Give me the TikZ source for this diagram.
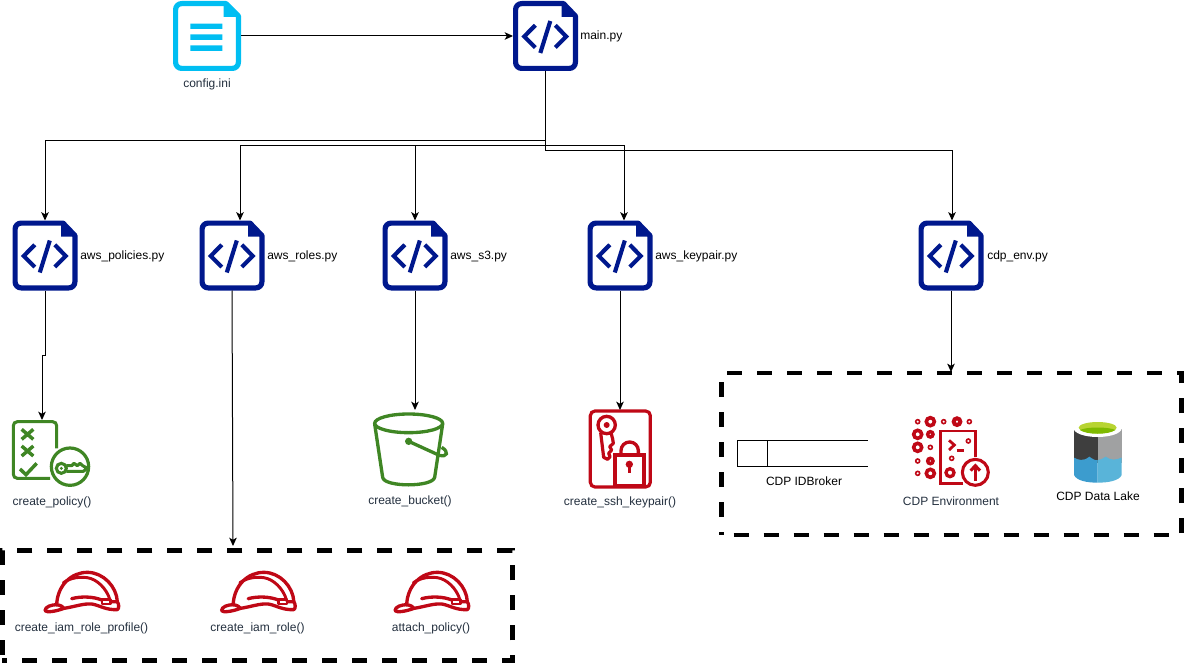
\documentclass[tikz,border=0pt]{standalone}
\usepackage{fontspec}
\setmainfont{Liberation Sans}
\usetikzlibrary{arrows.meta}
\definecolor{navy}{HTML}{00188D}
\definecolor{cyanfile}{HTML}{00BEF2}
\definecolor{awsgreen}{HTML}{3F8624}
\definecolor{awsred}{HTML}{BF0816}
\definecolor{inkdark}{HTML}{232F3E}
\definecolor{lakedark}{HTML}{3E3E3E}
\definecolor{lakegrey}{HTML}{A0A1A2}
\definecolor{lakelime}{HTML}{B8D432}
\definecolor{lakegreen}{HTML}{7FBA00}
\definecolor{lakeblue}{HTML}{3C9CCE}
\definecolor{lakesky}{HTML}{59B4D9}
\tikzset{
  x=.75pt,y=-.75pt,
  conn/.style={draw=black,line width=.75pt,-{Stealth[length=6.2pt,width=5.6pt,inset=1.5pt]}},
  wire/.style={draw=black,line width=.75pt},
  iconbox/.style={inner sep=0pt,outer sep=0pt,draw=none,rectangle},
  lbl/.style={font=\fontsize{9}{11}\selectfont,inner sep=0pt,text=black,anchor=base},
  lbll/.style={lbl,anchor=base west},
  lbld/.style={lbl,text=inkdark},
  groupbox/.style={draw=black,line width=3.5pt,dash pattern=on 11.25pt off 11.25pt,rectangle,inner sep=0pt,outer sep=0pt},
  zoomed/.style={x=.25pt,y=-.25pt},
  codefile/.pic={
    \draw[navy,line width=3.9pt,line join=round,rounded corners=4.5pt]
      (2.6,30) -- (2.6,2.6) -- (35,2.6) [sharp corners] -- (50.5,2.6) -- (62.4,15) [rounded corners=4.5pt] -- (62.4,67.4) -- (2.6,67.4) -- cycle;
    \fill[navy] (48.7,1) -- (50.5,1) -- (64,15) -- (64,16) -- (48.7,16) -- cycle;
    \draw[navy,line width=3.1pt,line cap=butt,line join=miter]
      (22.3,24.3) -- (11.2,35.5) -- (22.3,46.5)
      (42.3,24.3) -- (53.2,35.5) -- (42.3,46.5)
      (37.3,20) -- (27.3,52);
  },
  inifile/.pic={
    \draw[cyanfile,line width=3.9pt,line join=round,rounded corners=4.5pt]
      (2.6,30) -- (2.6,2.6) -- (35,2.6) [sharp corners] -- (53,2.6) -- (65.4,15) [rounded corners=4.5pt] -- (65.4,67.4) -- (2.6,67.4) -- cycle;
    \fill[cyanfile] (50.7,1) -- (53,1) -- (67,15) -- (67,16) -- (50.7,16) -- cycle;
    \fill[cyanfile] (17.3,22.7) rectangle (49.3,27.9)
      (17.3,33.4) rectangle (49.3,38.8)
      (17.3,44.4) rectangle (49.3,50);
  },
  hardhat/.pic={
    \begin{scope}[zoomed,awsred,line width=2.5pt,line join=round,line cap=round]
      \draw (170,195) .. controls (172,135) and (215,97) .. (262,97)
            .. controls (310,97) and (350,140) .. (352,185);
      \draw[line width=2.2pt] (190,128) .. controls (215,112) and (240,110) .. (262,113)
            .. controls (290,117) and (320,145) .. (330,180);
      \draw (215,176) .. controls (245,168) and (280,170) .. (306,180);
      \draw[line width=1.9pt] (306,178) rectangle (332,192);
      \draw (135,212) .. controls (135,200) and (155,194) .. (170,194)
            .. controls (182,196) and (190,200) .. (192,205)
            .. controls (165,215) and (140,218) .. (135,212);
      \draw (192,205) .. controls (225,200) and (250,190) .. (275,192)
            .. controls (300,196) and (315,210) .. (352,209)
            .. controls (358,205) and (357,192) .. (352,185) -- (332,185);
    \end{scope}
  },
}
\begin{document}
\begin{tikzpicture}
\useasboundingbox (0,0) rectangle (1184,663);

% ---- file nodes
\node[iconbox,minimum width=51pt,minimum height=52.5pt] (config) at (207,36) {};
\node[iconbox,minimum width=48.75pt,minimum height=52.5pt] (main) at (545.5,36) {};
\node[iconbox,minimum width=48.75pt,minimum height=52.5pt] (policies) at (45,255.5) {};
\node[iconbox,minimum width=48.75pt,minimum height=52.5pt] (roles) at (232,255.5) {};
\node[iconbox,minimum width=48.75pt,minimum height=52.5pt] (sthree) at (415,255.5) {};
\node[iconbox,minimum width=48.75pt,minimum height=52.5pt] (keypair) at (620,255.5) {};
\node[iconbox,minimum width=48.75pt,minimum height=52.5pt] (cdpenv) at (951,255.5) {};

\pic at (173,1) {inifile};
\pic at (513,1) {codefile};
\pic at (12.5,220.5) {codefile};
\pic at (199.5,220.5) {codefile};
\pic at (382.5,220.5) {codefile};
\pic at (587.5,220.5) {codefile};
\pic at (918.5,220.5) {codefile};

% ---- file labels
\node[lbld] (lconfig) at (207,88) {config.ini};
\node[lbll] (lmain) at (580,40) {main.py};
\node[lbll] (lpol) at (80,259) {aws\_policies.py};
\node[lbll] (lrol) at (267,259) {aws\_roles.py};
\node[lbll] (ls3) at (450,259) {aws\_s3.py};
\node[lbll] (lkey) at (655,259) {aws\_keypair.py};
\node[lbll] (lenv) at (987,259) {cdp\_env.py};

% ---- group boxes
\node[groupbox,dash phase=7.5pt,minimum width=510*.75pt,minimum height=110*.75pt] (iamgroup) at (257.45,605.4) {};
\node[groupbox,dash phase=13.5pt,minimum width=460.2*.75pt,minimum height=162*.75pt] (cdpgroup) at (951.6,453.85) {};

% ---- policy icon
\node[iconbox,minimum width=58pt,minimum height=45pt] (policyicon) at (51.5,450) {};
\begin{scope}[shift={(0,400)},zoomed,awsgreen]
  \draw[line width=2.3pt,rounded corners=3pt] (150,235) -- (40,235) -- (40,65) -- (170,65) -- (170,145);
  \draw[line width=2.6pt] (65,88) -- (100,118) (100,88) -- (65,118)
        (65,138) -- (100,168) (100,138) -- (65,168);
  \draw[line width=2.6pt] (60,207) -- (78,224) -- (110,190);
  \draw[line width=2.4pt] (210,200) circle (56);
  \draw[line width=2.3pt] (184,205) circle (15);
  \fill (184,205) circle (5);
  \draw[line width=2.3pt,line join=round] (199,197) -- (215,197) -- (222,190) -- (232,197) -- (240,190) -- (248,197) -- (262,205) -- (250,214) -- (199,214);
\end{scope}
\node[lbld] (lpolicy) at (52,505) {create\_policy()};

% ---- bucket icon
\node[iconbox,minimum width=55pt,minimum height=58pt] (bucket) at (410,449) {};
\begin{scope}[shift={(360,400)},zoomed,awsgreen,line width=2.5pt]
  \draw (146,70) ellipse (102 and 28);
  \draw (44,72) -- (68,232) .. controls (72,262) and (218,262) .. (224,232) -- (248,72);
  \fill (146,124) circle (11);
  \draw (146,124) -- (238,166) .. controls (262,172) and (268,156) .. (245,142);
\end{scope}
\node[lbld] (lbucket) at (410,504) {create\_bucket()};

% ---- keypair icon
\node[iconbox,minimum width=46pt,minimum height=58pt] (keyicon) at (620,449) {};
\begin{scope}[shift={(560,400)},zoomed,awsred]
  \draw[line width=2.4pt,rounded corners=3.5pt] (91,33) rectangle (271,261);
  \draw[line width=2.5pt] (140,75) circle (26);
  \fill (140,75) circle (9);
  \draw[line width=2.4pt,line join=round] (122,98) -- (131,172) -- (143,178) -- (150,170) -- (146,160) -- (155,150) -- (149,140) -- (160,130) -- (158,117) -- (153,98);
  \draw[line width=2.5pt] (165,165) rectangle (252,256);
  \draw[line width=2.5pt] (183,165) -- (183,152) arc (180:360:26) -- (235,165);
  \fill (208,193) circle (11);
  \draw[line width=2.5pt] (208,193) -- (208,220);
\end{scope}
\node[lbld] (lkeypair) at (620,505) {create\_ssh\_keypair()};

% ---- IDBroker
\node[iconbox,minimum width=97.9pt,minimum height=19.5pt] (idbroker) at (802.6,453.7) {};
\draw[wire] (idbroker.north east) -- (idbroker.north west) -- (idbroker.south west) -- (idbroker.south east);
\coordinate (divtop) at (767.5,440.7);
\coordinate (divbot) at (767.5,466.7);
\draw[wire] (divtop) -- (divbot);
\node[lbl] (lidbroker) at (804,485) {CDP IDBroker};

% ---- Environment icon
\node[iconbox,minimum width=60pt,minimum height=58pt] (envicon) at (952,450) {};
\begin{scope}[shift={(895,405)},zoomed,awsred]
  \foreach \cx/\cy/\cr/\lw in {68/50/6/1.2,106/50/12/2.7,146/50/6/1.2,186/50/10/3,223/50/6/1.2,
     68/88/12/2.7,106/88/8/2.6,68/127/12/2.7,106/127/6/1.2,
     68/168/6/1.2,106/168/8/2.6,68/205/6/1.2,106/205/12/2.7,
     220/108/6/1.2,170/160/6/1.2,165/203/12/2.5}{
    \draw[line width=\lw pt] (\cx,\cy) circle (\cr);
  }
  \draw[line width=2.1pt,line join=miter] (205,235) -- (136,235) -- (136,78) -- (242,78) -- (242,155);
  \draw[line width=2.1pt] (162,106) -- (178,120) -- (162,135);
  \draw[line width=2.1pt] (185,137) -- (207,137);
  \draw[line width=2.3pt] (241,202) circle (39);
  \draw[line width=2.6pt] (241,228) -- (241,182);
  \draw[line width=2.3pt] (227,197) -- (241,182) -- (255,197);
\end{scope}
\node[lbld] (lenvicon) at (951,505) {CDP Environment};

% ---- Data lake icon
\node[iconbox,minimum width=36pt,minimum height=46pt] (lakeicon) at (1098,452) {};
\begin{scope}[shift={(1040,410)},zoomed]
  \fill[lakedark] (102,58) -- (173,58) -- (173,160) -- (102,160) -- cycle;
  \fill[lakegrey] (173,58) -- (245,58) -- (245,160) -- (173,160) -- cycle;
  \fill[white] (173,55) ellipse (72 and 26);
  \fill[lakelime] (173,53) ellipse (57 and 17);
  \fill[lakegreen] (120,60) .. controls (140,50) and (205,50) .. (226,60) .. controls (205,75) and (140,75) .. (120,60) -- cycle;
  \fill[lakeblue] (102,143) .. controls (115,150) and (130,155) .. (148,140) .. controls (155,146) and (165,152) .. (173,150) -- (173,218) .. controls (140,218) and (110,212) .. (102,195) -- cycle;
  \fill[lakesky] (173,150) .. controls (185,148) and (190,145) .. (197,140) .. controls (212,152) and (228,150) .. (245,143) -- (245,195) .. controls (238,212) and (205,218) .. (173,218) -- cycle;
\end{scope}
\node[lbl] (llake) at (1098,500) {CDP Data Lake};

% ---- hats
\node[iconbox,minimum width=58pt,minimum height=33pt] (hatone) at (81,594) {};
\node[iconbox,minimum width=58pt,minimum height=33pt] (hattwo) at (258,594) {};
\node[iconbox,minimum width=58pt,minimum height=33pt] (hatthree) at (431,594) {};
\pic at (0,540) {hardhat};
\pic at (176.5,540) {hardhat};
\pic at (350,540) {hardhat};
\node[lbld] (lhatone) at (81.5,631) {create\_iam\_role\_profile()};
\node[lbld] (lhattwo) at (257.5,631) {create\_iam\_role()};
\node[lbld] (lhatthree) at (431,631) {attach\_policy()};

% ---- connector coordinates
\coordinate (mainin) at (513,36);
\coordinate (polin) at (45,220.5);
\coordinate (rolin) at (240,220.5);
\coordinate (s3in) at (415,220.5);
\coordinate (keyin) at (624,220.5);
\coordinate (envin) at (952,220.5);
\coordinate (busa) at (545.5,140.5);
\coordinate (busb) at (545.5,145.5);
\coordinate (busc) at (545.5,150.5);
\coordinate (poldrop) at (45,355);
\coordinate (poldropb) at (42,355);
\coordinate (policyin) at (42,420);
\coordinate (hatin) at (233,546);
\coordinate (bucketin) at (415,410);
\coordinate (keyiconin) at (620,410);
\coordinate (envgroupin) at (951,372);

% ---- connectors
\draw[conn] (config.east) -- (mainin);
\draw[conn] (main.south) -- (busa) -| (polin);
\draw[conn] (main.south) -- (busb) -| (rolin);
\draw[conn] (main.south) -- (busb) -| (s3in);
\draw[conn] (main.south) -- (busb) -| (keyin);
\draw[conn] (main.south) -- (busc) -| (envin);
\draw[conn] (policies.south) -- (poldrop) -- (poldropb) -- (policyin);
\draw[conn] (roles.south) -- (hatin);
\draw[conn] (sthree.south) -- (bucketin);
\draw[conn] (keypair.south) -- (keyiconin);
\draw[conn] (cdpenv.south) -- (envgroupin);
\end{tikzpicture}
\end{document}
